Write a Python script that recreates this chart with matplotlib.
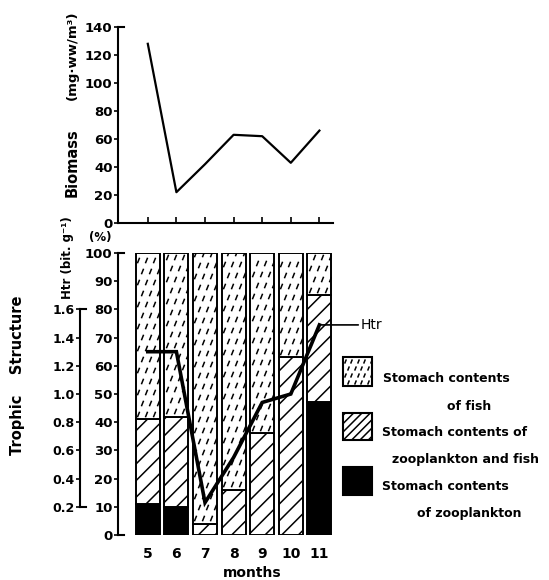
import numpy as np
import matplotlib
matplotlib.use('Agg')
import matplotlib.pyplot as plt
from matplotlib.path import Path
from matplotlib.patches import Rectangle

W, H = 549, 580

months = [5, 6, 7, 8, 9, 10, 11]
biomass = [128, 22, 42, 63, 62, 43, 66]
zoo = [11, 10, 0, 0, 0, 0, 47]           # stomach contents of zooplankton (%)
zoo_fish = [30, 32, 4, 16, 36, 63, 38]   # zooplankton and fish (%)
fish = [59, 58, 96, 84, 64, 37, 15]      # fish (%)
htr = [1.30, 1.30, 0.23, 0.55, 0.94, 1.00, 1.49]

plt.rcParams['font.family'] = 'DejaVu Sans'
plt.rcParams['font.weight'] = 'bold'
plt.rcParams['axes.linewidth'] = 1.5
plt.rcParams['hatch.linewidth'] = 1.1
FS = 9.5

# pixel <-> figure helpers
def fx(px):
    return px / W

def fy(py):
    return 1 - py / H

def mx(px):
    # month value at a given pixel column
    return 5 + (px - 147.8) / 28.6

XL = (mx(118), mx(333))

DASH = Path([(-0.4, -1.0), (0.4, 1.0)], [Path.MOVETO, Path.LINETO])


def dash_fill(ax, x0, y0, w, h, xstep, ystep, ms, clip=None):
    xs, ys = [], []
    for i, yy in enumerate(np.arange(y0 + ystep * 0.5, y0 + h, ystep)):
        off = (i % 2) * xstep / 2
        for xx in np.arange(x0 + xstep * 0.3 + off, x0 + w, xstep):
            xs.append(xx)
            ys.append(yy)
    ln, = ax.plot(xs, ys, ls='none', marker=DASH, ms=ms, mew=1.1, color='k')
    if clip is not None:
        ln.set_clip_path(clip)


fig = plt.figure(figsize=(W / 100, H / 100), dpi=100)

# overlay for free text and legend, in pixel coordinates
ov = fig.add_axes([0, 0, 1, 1])
ov.set_xlim(0, W)
ov.set_ylim(H, 0)
ov.axis('off')

# ---- top panel: biomass
top = fig.add_axes([fx(118), fy(223), fx(333) - fx(118), fy(27) - fy(223)])
top.plot(months, biomass, color='k', lw=1.6)
top.set_xlim(*XL)
top.set_ylim(0, 140)
top.set_yticks(range(0, 141, 20))
top.set_yticklabels([str(v) for v in range(0, 141, 20)], fontsize=FS)
top.set_xticks(months)
top.set_xticklabels([])
top.tick_params(axis='x', direction='in', length=4, width=1.2)
top.tick_params(axis='y', direction='out', length=3, width=1.2, pad=1)
top.spines['top'].set_visible(False)
top.spines['right'].set_visible(False)
top.plot([XL[0], XL[0] + 0.2], [140, 140], color='k', lw=1.5, clip_on=False)

# ---- bottom panel: trophic structure
ax = fig.add_axes([fx(118), fy(535), fx(333) - fx(118), fy(253) - fy(535)])
ax.patch.set_alpha(0)
bw = 0.84
b1 = np.array(zoo)
b2 = b1 + np.array(zoo_fish)
ax.bar(months, zoo, width=bw, color='k', edgecolor='k', lw=1.4)
ax.bar(months, zoo_fish, bottom=b1, width=bw, facecolor='white',
       edgecolor='k', hatch='//', lw=1.4)
bars = ax.bar(months, fish, bottom=b2, width=bw, facecolor='white',
              edgecolor='k', lw=1.4)
for r in bars:
    dash_fill(ax, r.get_x(), r.get_y(), r.get_width(), r.get_height(),
              0.28, 3.9, 4.0, clip=r)

ax.set_xlim(*XL)
ax.set_ylim(0, 100)
ax.set_yticks(range(0, 101, 10))
ax.set_yticklabels([str(v) for v in range(0, 101, 10)], fontsize=FS)
ax.set_xticks(months)
ax.set_xticklabels([str(m) for m in months], fontsize=FS + 0.5)
ax.tick_params(axis='x', length=0, pad=9)
ax.tick_params(axis='y', direction='out', length=3, width=1.2, pad=1)
for s in ['top', 'right', 'bottom']:
    ax.spines[s].set_visible(False)
ax.plot([XL[0], XL[0] + 0.2], [0, 0], color='k', lw=1.5, clip_on=False)
ax.plot([XL[0], XL[0] + 0.2], [100, 100], color='k', lw=1.5, clip_on=False)

# Htr axis (same scale: 1.0 bit/g == 50 %)
ax2 = ax.twinx()
ax2.set_ylim(0, 2)
for s in ['top', 'right', 'bottom']:
    ax2.spines[s].set_visible(False)
ax2.spines['left'].set_visible(True)
ax2.spines['left'].set_position(('outward', 38 * 72 / 100))
ax2.spines['left'].set_bounds(0.2, 1.6)
ax2.yaxis.set_ticks_position('left')
hticks = np.arange(0.2, 1.61, 0.2)
ax2.set_yticks(hticks)
ax2.set_yticklabels([f'{v:.1f}' for v in hticks], fontsize=FS - 0.5)
ax2.tick_params(axis='y', direction='out', length=3, width=1.2, pad=1)
ax2.plot(months, htr, color='k', lw=2.6, solid_joinstyle='miter')
x_h = mx(80)
ax2.plot([x_h, x_h + 0.22], [0.2, 0.2], color='k', lw=1.5, clip_on=False)
ax2.plot([x_h, x_h + 0.22], [1.6, 1.6], color='k', lw=1.5, clip_on=False)
ax2.annotate('Htr', xy=(months[-1], htr[-1]), xytext=(30, 0),
             textcoords='offset points', va='center', ha='left',
             fontsize=FS + 0.5, fontweight='normal',
             arrowprops=dict(arrowstyle='-', lw=1.2, color='k',
                             shrinkA=0, shrinkB=0))

# ---- axis titles
ov.text(72, 55, '(mg·ww/m³)', rotation=90, ha='center', va='center', fontsize=FS)
ov.text(72, 163, 'Biomass', rotation=90, ha='center', va='center', fontsize=FS + 1)
ov.text(68, 258, 'Htr (bit. g⁻¹)', rotation=90, ha='center', va='center', fontsize=FS - 1)
ov.text(100, 237, '(%)', ha='center', va='center', fontsize=FS - 1)
ov.text(18, 375, 'Trophic    Structure', rotation=90, ha='center', va='center', fontsize=FS + 1)
ov.text(252, 573, 'months', ha='center', va='center', fontsize=FS + 0.5)

# ---- legend
ov.add_patch(Rectangle((343, 357), 29, 29, facecolor='white', edgecolor='k', lw=1.5))
dash_fill(ov, 343, 357, 29, 29, 6.5, 7, 3.0)
ov.add_patch(Rectangle((343, 413), 29, 27, facecolor='white', edgecolor='k',
                       lw=1.5, hatch='////'))
ov.add_patch(Rectangle((343, 467), 29, 28, facecolor='k', edgecolor='k', lw=1.5))
LF = FS - 0.5
ov.text(383, 379, 'Stomach contents', va='center', fontsize=LF)
ov.text(447, 406, 'of fish', va='center', fontsize=LF)
ov.text(382, 433, 'Stomach contents of', va='center', fontsize=LF)
ov.text(392, 459, 'zooplankton and fish', va='center', fontsize=LF)
ov.text(382, 487, 'Stomach contents', va='center', fontsize=LF)
ov.text(417, 513, 'of zooplankton', va='center', fontsize=LF)

fig.savefig('out.png', dpi=100)
